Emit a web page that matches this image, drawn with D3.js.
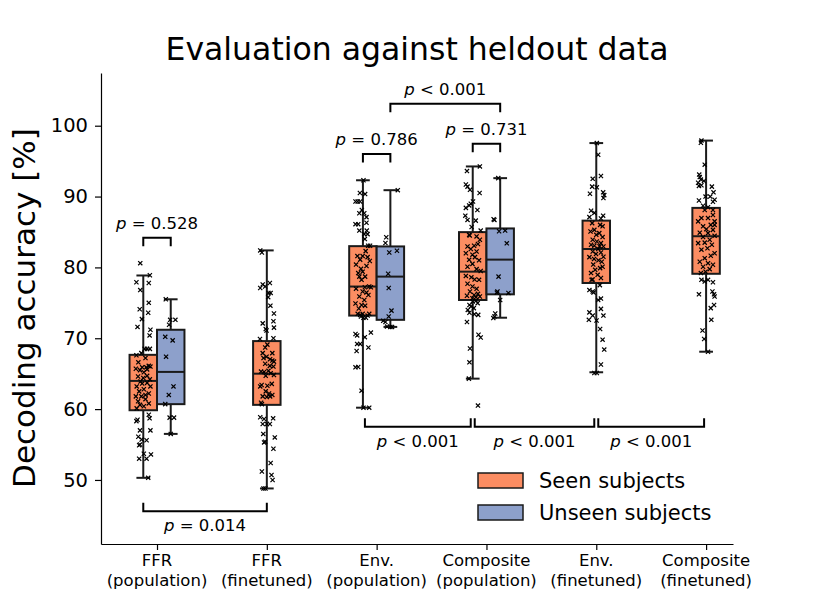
<!DOCTYPE html>
<html>
<head>
<meta charset="utf-8">
<script src="https://cdn.jsdelivr.net/npm/d3@7"></script>
<style>
body { margin: 0; background: #fff; }
text { font-family: "DejaVu Sans", sans-serif; fill: #000; }
</style>
</head>
<body>
<div id="chart"></div>
<script>
// categories and groups
var categories = [["FFR", "(population)"], ["FFR", "(finetuned)"], ["Env.", "(population)"],
                  ["Composite", "(population)"], ["Env.", "(finetuned)"], ["Composite", "(finetuned)"]];
var hues = ["Seen subjects", "Unseen subjects"];
var hueColors = ["#fc8d62", "#8da0cb"];
var yTicks = [50, 60, 70, 80, 90, 100];

// box stats: [whisker low, q1, median, q3, whisker high]
var seenStats = [
	[50.3, 59.84, 63.98, 67.66, 78.86],
	[48.8, 60.6, 65.0, 69.6, 82.4],
	[60.2, 73.2, 77.3, 83.0, 92.3],
	[64.3, 75.4, 79.4, 84.98, 94.25],
	[65.2, 77.8, 82.6, 86.6, 97.55],
	[68.1, 79.1, 84.4, 88.4, 97.9]
];
var unseenStats = [
	[56.5, 60.7, 65.25, 71.2, 75.5],
	null,
	[71.6, 72.6, 78.7, 82.96, 90.9],
	[72.9, 76.2, 81.1, 85.5, 92.6],
	null,
	null
];

// individual subjects: [accuracy, jitter in box widths]
var seenPoints = [
	[[80.6,-0.11],[78.9,0.24],[77.9,-0.25],[77.8,0.2],[76.8,-0.11],[75.0,0.2],[74.1,-0.13],[73.6,0.18],[72.7,-0.05],[71.6,-0.21],[71.2,0.26],[70.4,0.23],[68.5,0.05],[68.5,0.14],[68.5,0.24],[67.9,-0.07],
	 [67.6,-0.25],[67.2,0.08],[66.6,-0.18],[66.1,0.2],[66.0,0.26],[65.9,-0.04],[65.9,0.11],[65.7,-0.27],[65.6,0.14],[65.5,-0.12],[65.2,0.02],[64.7,0.14],[64.6,-0.19],[64.4,0],[64.2,0.24],[63.9,-0.1],[63.7,0.14],[63.6,-0.04],[63.2,-0.24],[63.2,0.26],[62.8,0.02],[62.5,-0.15],[62.2,0.2],[62.0,0.08],[61.8,-0.27],[61.8,-0.07],[61.4,0.08],[61.1,-0.19],[60.8,0.2],[60.6,-0.12],[60.4,0.02],[60.1,-0.24],
	 [59.2,0.2],[58.7,0.23],[58.5,-0.21],[58.3,-0.25],[57.0,-0.12],[57.0,0.26],[56.1,-0.18],[55.7,-0.06],[55.6,0.12],[55.0,-0.12],[54.9,-0.15],[53.7,0.02],[53.6,0.28],[53.0,-0.15],[53.0,0.12],[50.3,0.18]],
	[[82.4,-0.24],[82.1,-0.18],[77.1,-0.24],[77.6,-0.15],[77.3,-0.06],[77.8,0.11],[76.4,0.14],[76.4,0.06],[75.8,0.05],[74.6,0.13],[73.5,0.26],[72.1,-0.15],[72.4,0.24],[71.3,-0.04],[71.1,-0.01],[71.5,0.26],[69.9,-0.25],[70.0,0.24],
	 [68.7,-0.06],[69.1,0.02],[67.9,-0.15],[67.9,0.2],[67.2,-0.12],[67.4,-0.01],[67.05,0.12],[66.85,0.2],[66.7,0.26],[66.4,-0.06],[66.1,0.11],[66.0,0.24],[65.3,-0.21],[65.25,-0.1],[65.4,0.06],[65.07,0.14],[64.8,0.26],[64.7,-0.04],[63.4,-0.19],[63.3,0.02],[63.56,0.18],[63.2,-0.24],[62.5,-0.04],[62.2,0.08],[62.0,0.2],[61.8,-0.15],[61.8,0.12],[61.7,0],[60.9,-0.21],[60.7,-0.18],
	 [58.85,-0.24],[58.6,-0.1],[57.9,-0.15],[57.9,0],[57.9,0.11],[58.7,0.23],[56.5,-0.13],[55.3,-0.1],[55.4,-0.06],[56.0,0.29],[54.4,0.24],[52.4,0.14],[51.2,-0.18],[50.7,0.17],[50.0,0.21],[48.8,-0.12],[48.8,-0.05]],
	[[92.3,0.02],[90.5,-0.11],[90.35,0.08],[89.3,-0.27],[89.3,-0.19],[89.3,-0.1],[87.65,-0.13],[87.65,0.05],[88.1,-0.04],[87.1,0.13],[86.1,-0.27],[86.1,-0.17],[86.3,0.13],[85.2,-0.13],[85.2,0.14],[84.7,0.05],[84.7,0.17],[84.0,0.07],[83.05,0.26],[83.05,0.19],
	 [82.3,0.1],[81.6,-0.2],[81.6,-0.01],[81.45,0.17],[81.1,-0.1],[80.9,0.25],[80.4,-0.25],[80.2,0.13],[79.8,-0.07],[79.2,-0.17],[79.4,-0.01],[78.7,0.08],[78.7,-0.13],[78.25,-0.05],[77.3,0.23],[77.2,0.07],[77.2,0.29],[77.0,-0.25],[76.6,-0.01],[76.45,0.13],[76.1,0.2],[75.9,-0.13],[75.4,0.05],[74.9,-0.27],[74.7,-0.05],[74.6,0.08],[74.2,-0.15],[73.45,-0.01],[73.3,-0.1],[73.45,0.23],[73.45,-0.19],[73.2,0.17],
	 [73.07,-0.07],[72.9,0.02],[72.9,0.11],[70.6,-0.27],[70.4,-0.21],[70.8,0.29],[70.15,0.07],[69.2,-0.21],[69.2,-0.1],[68.7,0.2],[68.2,-0.23],[65.9,-0.27],[65.95,-0.17],[62.6,-0.05],[60.2,0.02],[60.2,0.23]],
	[[94.25,0.26],[93.6,-0.21],[91.7,-0.25],[91.4,-0.19],[90.95,-0.1],[90.5,0.25],[89.3,0.01],[88.98,-0.07],[88.75,-0.13],[88.4,-0.25],[88.1,0.17],[87.3,-0.27],[86.7,-0.19],[86.6,0.11],[85.7,-0.04],[85.2,0.29],[84.6,-0.13],
	 [84.5,-0.11],[84.37,0.14],[83.9,0.26],[83.3,0.19],[82.95,-0.19],[83.05,0.05],[82.6,-0.07],[82.25,0.14],[82.0,-0.25],[81.8,-0.01],[81.45,0.08],[81.07,-0.13],[81.0,0.23],[80.5,-0.01],[80.1,-0.19],[79.76,0.14],[79.5,0.29],[78.8,-0.25],[78.6,-0.05],[78.3,0.07],[78.25,0.23],[77.7,-0.19],[77.3,-0.01],[76.98,0.14],[76.6,-0.1],[76.27,0.19],[76.0,-0.21],[76.1,0.05],[75.9,0.26],[75.66,-0.01],[75.8,0.12],
	 [75.28,0.12],[75.2,0],[74.96,0.18],[74.7,-0.12],[74.5,-0.06],[74.25,0.04],[74.0,-0.18],[73.6,-0.12],[73.4,0.06],[73.3,0.2],[72.3,-0.21],[70.5,0.21],[70.1,0.29],[68.55,-0.1],[66.6,-0.12],[64.3,-0.14],[60.5,0.19]],
	[[97.55,0.02],[95.9,0.07],[92.9,0.17],[92.5,-0.13],[91.3,0.02],[91.4,-0.15],[90.4,-0.23],[90.6,0.25],[90.2,0.29],[89.8,0.26],[88.0,-0.19],[87.7,-0.07],[87.1,-0.25],[87.3,0.25],[86.9,0.17],
	 [86.25,-0.15],[86.0,0.14],[85.8,0.23],[85.3,-0.07],[85.07,-0.21],[84.84,0.11],[84.6,0.0],[84.28,0.23],[83.9,-0.13],[83.66,0.02],[83.43,0.17],[83.2,-0.19],[83.05,-0.07],[83.0,0.12],[82.95,0.26],[82.6,0.07],[82.25,-0.13],[82.1,0.17],[81.9,-0.01],[81.5,0.26],[81.45,-0.25],[81.2,-0.08],[81.0,0.08],[80.8,0.2],[80.4,-0.11],[80.1,0.23],[79.9,0.14],[79.66,-0.04],[79.2,-0.19],[78.95,0.05],[78.5,0.17],[78.3,-0.13],[78.25,-0.17],
	 [77.5,0.13],[76.8,-0.25],[76.6,-0.13],[76.45,-0.1],[75.6,0.17],[75.4,0.07],[74.15,0.17],[73.65,-0.25],[73.2,0.26],[73.2,-0.13],[72.6,-0.27],[72.5,0.01],[71.3,0.14],[69.8,0.23],[68.4,0.29],[66.3,0.17],[65.1,0.02],[65.1,-0.07]],
	[[97.9,-0.17],[97.6,-0.19],[94.5,-0.05],[93.1,-0.25],[92.75,-0.23],[92.4,-0.19],[91.95,-0.29],[92.2,-0.08],[91.6,-0.17],[91.5,-0.26],[91.4,0.21],[90.6,0.27],[90.0,0.15],[90.0,-0.02],[89.55,0.31],[89.27,0.25],[89.45,-0.26],[88.7,-0.11],[88.5,0.07],[88.1,0.25],
	 [88.1,-0.05],[87.4,0.25],[86.96,-0.17],[86.96,0.07],[86.5,0.31],[86.5,-0.29],[86.0,0.17],[86.0,0.31],[85.8,-0.11],[85.4,0.01],[85.3,0.25],[84.9,-0.23],[84.84,0.07],[84.46,0.31],[84.28,-0.11],[83.9,0.13],[83.43,-0.29],[83.5,-0.05],[83.2,0.21],[82.7,0.05],[82.5,-0.17],[82.0,0.31],[81.64,0.17],[81.3,-0.05],[80.8,-0.23],[80.6,0.07],[80.37,0.25],[80.1,-0.11],[79.76,0.13],[79.4,-0.02],[79.2,-0.19],
	 [78.25,-0.17],[78.0,-0.05],[78.25,0.07],[77.9,0.25],[76.2,-0.26],[76.6,0.23],[76.2,0.29],[75.9,0.31],[74.25,0.17],[74.7,0.29],[72.6,0.19],[71.1,-0.13],[69.9,-0.07],[68.1,0.07]]
];
var unseenPoints = [
	[[75.5,-0.18],[72.6,-0.02],[72.6,0.17],[71.9,-0.06],[70.2,-0.2],[69.7,0.07],[67.4,-0.17],[63.2,0.1],[62.0,-0.07],[60.7,-0.2],[58.8,-0.04],[58.8,0.12],[56.5,0.0]],
	null,
	[[90.9,0.27],[84.25,-0.15],[83.45,-0.18],[82.1,-0.04],[82.35,0.24],[79.1,-0.08],[77.1,-0.06],[73.9,0.04],[73.07,-0.06],[72.46,-0.26],[72.3,-0.18],[71.65,-0.12],[71.6,0],[71.6,0.06]],
	[[92.6,-0.07],[86.8,-0.24],[86.7,-0.21],[85.1,-0.04],[85.2,0.18],[83.4,0.24],[78.7,-0.06],[76.6,-0.1],[76.45,-0.12],[76.4,0.3],[75.4,0],[73.5,-0.18],[73.07,-0.21],[72.85,-0.25]],
	null,
	null
];

// significance tests: a/b = [category, hue]
var pTests = [
	{a: [0, 0], b: [0, 1], level: 84.2, dir: 1, op: "=", p: "0.528"},
	{a: [2, 0], b: [2, 1], level: 96.0, dir: 1, op: "=", p: "0.786"},
	{a: [3, 0], b: [3, 1], level: 97.45, dir: 1, op: "=", p: "0.731"},
	{a: [2, 1], b: [3, 1], level: 103.1, dir: 1, op: "<", p: "0.001"},
	{a: [2, 0], b: [3, 0], level: 57.5, dir: -1, op: "<", p: "0.001"},
	{a: [3, 0], b: [4, 0], level: 57.5, dir: -1, op: "<", p: "0.001"},
	{a: [4, 0], b: [5, 0], level: 57.5, dir: -1, op: "<", p: "0.001"},
	{a: [0, 0], b: [1, 0], level: 45.6, dir: -1, op: "=", p: "0.014"}
];

var w = 814;
var h = 610;

var svg = d3.select("#chart")
			.append("svg")
			.attr("width", w)
			.attr("height", h);

var x = d3.scaleLinear().domain([-0.51, 5.245]).range([101, 733]);
var y = d3.scaleLinear().domain([40.96, 107.44]).range([544, 73]);

var boxW = x(0.25) - x(0);

function boxX(cat, hue) {
	var dual = unseenStats[cat] != null;
	var off = dual ? (hue === 0 ? -0.125 : 0.125) : 0;
	return x(cat + off);
}

// axes
var yAxis = svg.append("g")
	.attr("transform", "translate(101,0)")
	.call(d3.axisLeft(y).tickValues(yTicks).tickSize(6).tickSizeOuter(0).tickPadding(7));
yAxis.selectAll("text").attr("font-size", "19.5px").attr("font-family", "DejaVu Sans");

var xAxis = svg.append("g")
	.attr("transform", "translate(0,544)")
	.call(d3.axisBottom(x).tickValues(d3.range(categories.length)).tickSize(6).tickSizeOuter(0).tickFormat(""));

svg.selectAll(".domain").attr("stroke", "#000").attr("stroke-width", 1.2);
svg.selectAll(".tick line").attr("stroke", "#000").attr("stroke-width", 1.2);

xAxis.selectAll(".xlab")
	.data(categories)
	.enter()
	.append("text")
	.attr("class", "xlab")
	.attr("text-anchor", "middle")
	.attr("font-size", "16.5px")
	.each(function(d, i) {
		var t = d3.select(this);
		t.append("tspan").attr("x", x(i)).attr("y", 22).text(d[0]);
		t.append("tspan").attr("x", x(i)).attr("y", 42).text(d[1]);
	});

// title and y label
svg.append("text")
	.attr("x", (101 + 733) / 2)
	.attr("y", 60)
	.attr("text-anchor", "middle")
	.attr("font-size", "31.5px")
	.text("Evaluation against heldout data");

svg.append("text")
	.attr("transform", "translate(35,308) rotate(-90)")
	.attr("text-anchor", "middle")
	.attr("font-size", "31px")
	.text("Decoding accuracy [%]");

// boxes
var groups = [];
categories.forEach(function(c, i) {
	groups.push({cat: i, hue: 0, s: seenStats[i], pts: seenPoints[i]});
	if (unseenStats[i]) groups.push({cat: i, hue: 1, s: unseenStats[i], pts: unseenPoints[i]});
});

var box = svg.selectAll("g.box")
	.data(groups)
	.enter()
	.append("g")
	.attr("class", "box")
	.attr("transform", function(d) { return "translate(" + boxX(d.cat, d.hue) + ",0)"; });

box.append("line")
	.attr("y1", function(d) { return y(d.s[4]); })
	.attr("y2", function(d) { return y(d.s[3]); });
box.append("line")
	.attr("y1", function(d) { return y(d.s[1]); })
	.attr("y2", function(d) { return y(d.s[0]); });
box.append("line")
	.attr("x1", -boxW / 4).attr("x2", boxW / 4)
	.attr("y1", function(d) { return y(d.s[4]); })
	.attr("y2", function(d) { return y(d.s[4]); });
box.append("line")
	.attr("x1", -boxW / 4).attr("x2", boxW / 4)
	.attr("y1", function(d) { return y(d.s[0]); })
	.attr("y2", function(d) { return y(d.s[0]); });
box.append("rect")
	.attr("x", -boxW / 2)
	.attr("width", boxW)
	.attr("y", function(d) { return y(d.s[3]); })
	.attr("height", function(d) { return y(d.s[1]) - y(d.s[3]); })
	.attr("fill", function(d) { return hueColors[d.hue]; });
box.append("line")
	.attr("x1", -boxW / 2).attr("x2", boxW / 2)
	.attr("y1", function(d) { return y(d.s[2]); })
	.attr("y2", function(d) { return y(d.s[2]); });

box.selectAll("line").attr("stroke", "#1a1a1a").attr("stroke-width", 2);
box.selectAll("rect").attr("stroke", "#1a1a1a").attr("stroke-width", 2);

// points
var m = 2.1;
box.selectAll("path.pt")
	.data(function(d) { return d.pts; })
	.enter()
	.append("path")
	.attr("class", "pt")
	.attr("d", "M" + (-m) + "," + (-m) + "L" + m + "," + m + "M" + (-m) + "," + m + "L" + m + "," + (-m))
	.attr("transform", function(d) { return "translate(" + (d[1] * boxW) + "," + y(d[0]) + ")"; })
	.attr("stroke", "#000")
	.attr("stroke-width", 1.2)
	.attr("fill", "none");

// significance brackets
var leg = 8.5;
pTests.forEach(function(t) {
	var gap = (t.dir < 0 && t.op === "<") ? 2 : 0;
	var x1 = boxX(t.a[0], t.a[1]) + gap;
	var x2 = boxX(t.b[0], t.b[1]) - gap;
	var yl = y(t.level);
	var ye = yl + t.dir * leg;
	svg.append("path")
		.attr("d", "M" + x1 + "," + ye + "V" + yl + "H" + x2 + "V" + ye)
		.attr("fill", "none")
		.attr("stroke", "#000")
		.attr("stroke-width", 2);
	var lab = svg.append("text")
		.attr("x", (x1 + x2) / 2)
		.attr("y", t.dir > 0 ? yl - 9 : yl + 20)
		.attr("text-anchor", "middle")
		.attr("font-size", "16.5px");
	lab.append("tspan").attr("font-style", "italic").text("p");
	lab.append("tspan").text(" " + t.op + " " + t.p);
});

// legend
var legend = svg.selectAll("g.legend")
	.data(hues)
	.enter()
	.append("g")
	.attr("class", "legend")
	.attr("transform", function(d, i) { return "translate(478," + (473 + i * 32) + ")"; });
legend.append("rect")
	.attr("width", 45)
	.attr("height", 15)
	.attr("fill", function(d, i) { return hueColors[i]; })
	.attr("stroke", "#1a1a1a")
	.attr("stroke-width", 1.5);
legend.append("text")
	.attr("x", 61)
	.attr("y", 15)
	.attr("font-size", "21px")
	.text(function(d) { return d; });
</script>
</body>
</html>
